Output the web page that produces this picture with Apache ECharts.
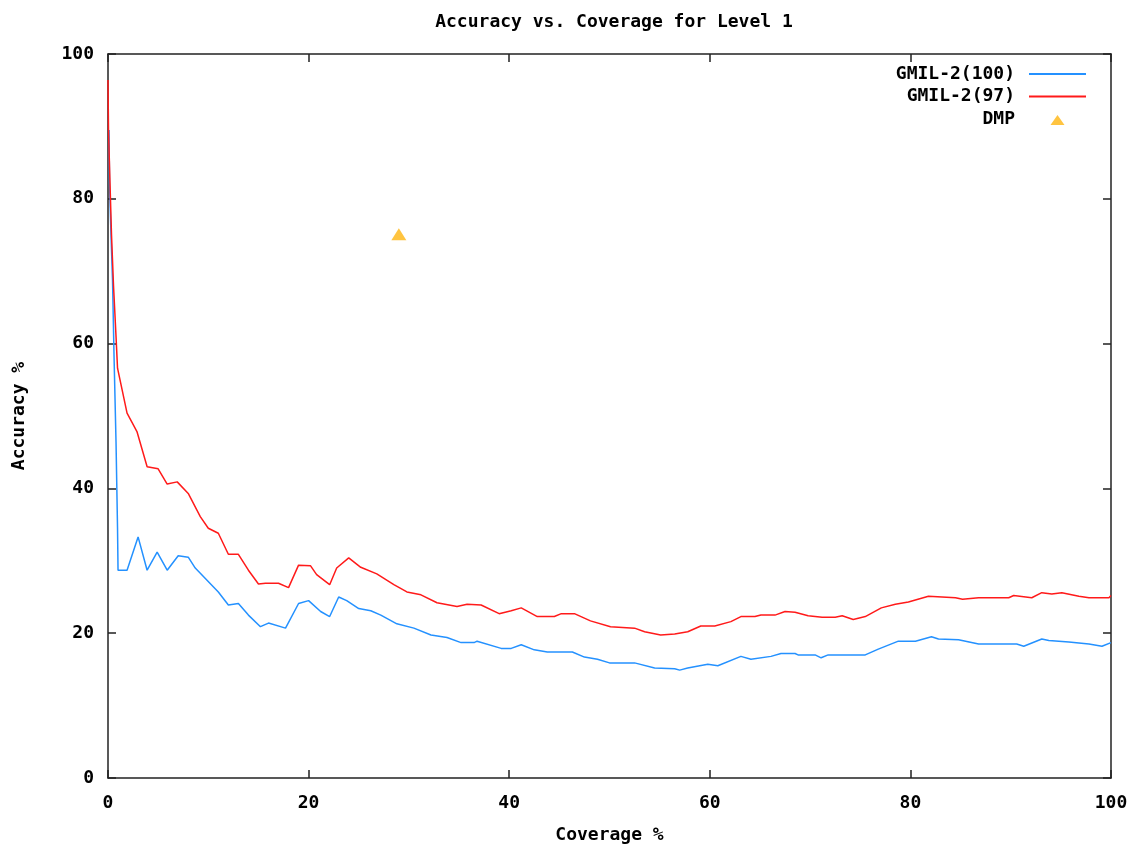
<!DOCTYPE html>
<html>
<head>
<meta charset="utf-8">
<script src="https://cdn.jsdelivr.net/npm/echarts@6/dist/echarts.min.js"></script>
<style>
  html, body { margin: 0; padding: 0; background: #fff; }
  #chart { width: 1147px; height: 852px; }
</style>
</head>
<body>
<div id="chart"></div>
<script>
// GMIL-2(100) curve
var cov100 = [0.1, 0.15, 0.3, 0.45, 0.6, 0.8, 0.95, 1.0, 1.9, 3.0, 3.9, 4.9, 5.9, 7.0, 8.0, 8.7, 11.0, 12.0, 13.0, 14.0, 15.2, 16.0, 17.7, 19.0, 20.0, 21.2, 22.1, 23.0, 23.8, 25.0, 26.2, 27.2, 28.8, 30.5, 32.2, 33.8, 35.2, 36.5, 36.8, 39.2, 40.2, 41.2, 42.5, 43.8, 46.3, 47.5, 48.8, 50.0, 52.5, 54.5, 56.5, 57.0, 57.8, 59.8, 60.8, 63.1, 64.1, 66.1, 67.1, 68.5, 68.8, 70.5, 71.1, 71.8, 75.5, 76.8, 78.8, 80.5, 82.1, 82.8, 84.8, 86.8, 90.6, 91.3, 93.1, 93.8, 95.8, 97.8, 99.1, 100];
var acc100 = [89.5, 82.1, 75.0, 68.8, 58.4, 46.4, 34.5, 28.7, 28.7, 33.3, 28.7, 31.2, 28.7, 30.7, 30.5, 29.0, 25.7, 23.9, 24.1, 22.5, 20.9, 21.4, 20.7, 24.1, 24.5, 23.0, 22.3, 25.0, 24.5, 23.4, 23.1, 22.5, 21.3, 20.7, 19.75, 19.4, 18.7, 18.7, 18.9, 17.9, 17.9, 18.4, 17.7, 17.4, 17.4, 16.7, 16.4, 15.9, 15.9, 15.2, 15.1, 14.9, 15.2, 15.7, 15.5, 16.8, 16.4, 16.8, 17.2, 17.2, 17.0, 17.0, 16.6, 17.0, 17.0, 17.8, 18.9, 18.9, 19.5, 19.2, 19.1, 18.5, 18.5, 18.2, 19.2, 19.0, 18.8, 18.5, 18.2, 18.7];

// GMIL-2(97) curve
var cov97 = [0, 0.05, 0.2, 0.35, 0.55, 0.8, 0.95, 1.9, 2.9, 3.9, 5.0, 5.9, 6.9, 8.0, 9.2, 10.0, 11.0, 12.0, 13.0, 14.0, 15.0, 15.7, 17.0, 18.0, 19.0, 20.2, 20.8, 22.1, 22.8, 24.0, 25.2, 26.8, 28.5, 29.8, 31.2, 32.8, 34.8, 35.8, 37.2, 39.0, 40.2, 41.2, 42.8, 44.5, 45.2, 46.5, 48.1, 50.1, 52.5, 53.5, 55.1, 56.5, 57.8, 59.1, 60.5, 62.1, 63.1, 64.5, 65.1, 66.5, 67.5, 68.5, 69.8, 71.2, 72.5, 73.2, 74.3, 75.5, 77.1, 78.5, 79.8, 81.8, 84.5, 85.2, 86.8, 89.8, 90.3, 92.1, 93.1, 94.1, 95.1, 96.8, 97.8, 99.8, 100];
var acc97 = [96.4, 89.5, 82.1, 75.0, 68.0, 61.0, 56.6, 50.4, 47.8, 43.0, 42.7, 40.6, 40.9, 39.3, 36.1, 34.5, 33.8, 30.9, 30.9, 28.7, 26.8, 26.9, 26.9, 26.3, 29.4, 29.3, 28.1, 26.7, 29.0, 30.4, 29.1, 28.2, 26.7, 25.7, 25.3, 24.2, 23.7, 24.0, 23.9, 22.7, 23.1, 23.5, 22.3, 22.3, 22.7, 22.7, 21.7, 20.9, 20.7, 20.2, 19.75, 19.9, 20.2, 21.0, 21.0, 21.6, 22.3, 22.3, 22.5, 22.5, 23.0, 22.9, 22.4, 22.2, 22.2, 22.4, 21.9, 22.3, 23.5, 24.0, 24.3, 25.1, 24.9, 24.7, 24.9, 24.9, 25.2, 24.9, 25.6, 25.4, 25.6, 25.1, 24.9, 24.9, 25.2];

// DMP single point
var dmpCov = [29.0];
var dmpAcc = [75.1];

var axisTicks = [0, 20, 40, 60, 80, 100];

function zip(xs, ys) {
  return xs.map(function (x, i) { return [x, ys[i]]; });
}

var font = '"DejaVu Sans Mono", monospace';
var black = '#000';
var txt = { color: black, fontFamily: font, fontWeight: 'bold', fontSize: 18 };

// small triangle centred in the wide legend box (degenerate corner points keep the box size)
var dmpIcon = 'path://M0,0L0.01,0M57,14L56.99,14M0,14L0.01,14M57,0L56.99,0M28.5,3L35.5,13L21.5,13Z';

var chart = echarts.init(document.getElementById('chart'));

function valueAxis(extra) {
  var base = {
    type: 'value',
    min: axisTicks[0],
    max: axisTicks[axisTicks.length - 1],
    interval: axisTicks[1] - axisTicks[0],
    splitLine: { show: false },
    axisLine: { show: true, onZero: false, lineStyle: { color: '#222', width: 1.5 } },
    axisTick: { show: true, inside: true, length: 8, lineStyle: { color: '#222', width: 1.5 } },
    axisLabel: Object.assign({}, txt)
  };
  return Object.assign(base, extra);
}

var option = {
  backgroundColor: '#fff',
  animation: false,
  title: {
    text: 'Accuracy vs. Coverage for Level 1',
    left: 609,
    textAlign: 'center',
    top: 8,
    textStyle: txt
  },
  legend: {
    orient: 'vertical',
    align: 'right',
    right: 55,
    top: 60,
    itemWidth: 57,
    itemHeight: 14,
    itemGap: 4.5,
    textStyle: Object.assign({ padding: [0, 9, 0, 0] }, txt),
    data: [
      { name: 'GMIL-2(100)', itemStyle: { opacity: 0 } },
      { name: 'GMIL-2(97)', itemStyle: { opacity: 0 } },
      { name: 'DMP', icon: dmpIcon }
    ]
  },
  grid: { left: 108, right: 36, top: 54, bottom: 74 },
  xAxis: [
    valueAxis({
      name: 'Coverage %',
      nameLocation: 'middle',
      nameGap: 48,
      nameTextStyle: txt,
      axisLabel: Object.assign({ margin: 16 }, txt)
    }),
    valueAxis({ position: 'top', axisLabel: { show: false } })
  ],
  yAxis: [
    valueAxis({
      name: 'Accuracy %',
      nameLocation: 'middle',
      nameGap: 80,
      nameTextStyle: txt,
      axisLabel: Object.assign({ margin: 14 }, txt)
    }),
    valueAxis({ position: 'right', axisLabel: { show: false } })
  ],
  series: [
    {
      name: 'GMIL-2(100)',
      type: 'line',
      data: zip(cov100, acc100),
      showSymbol: false,
      symbol: 'none',
      color: '#2491ff',
      lineStyle: { color: '#2491ff', width: 1.5 }
    },
    {
      name: 'GMIL-2(97)',
      type: 'line',
      data: zip(cov97, acc97),
      showSymbol: false,
      symbol: 'none',
      color: '#ff1a1a',
      lineStyle: { color: '#ff1a1a', width: 1.5 }
    },
    {
      name: 'DMP',
      type: 'scatter',
      data: zip(dmpCov, dmpAcc),
      symbol: 'triangle',
      symbolSize: [15, 12],
      color: '#ffb510',
      itemStyle: { color: '#ffb510' }
    }
  ]
};

chart.setOption(option);
</script>
</body>
</html>
